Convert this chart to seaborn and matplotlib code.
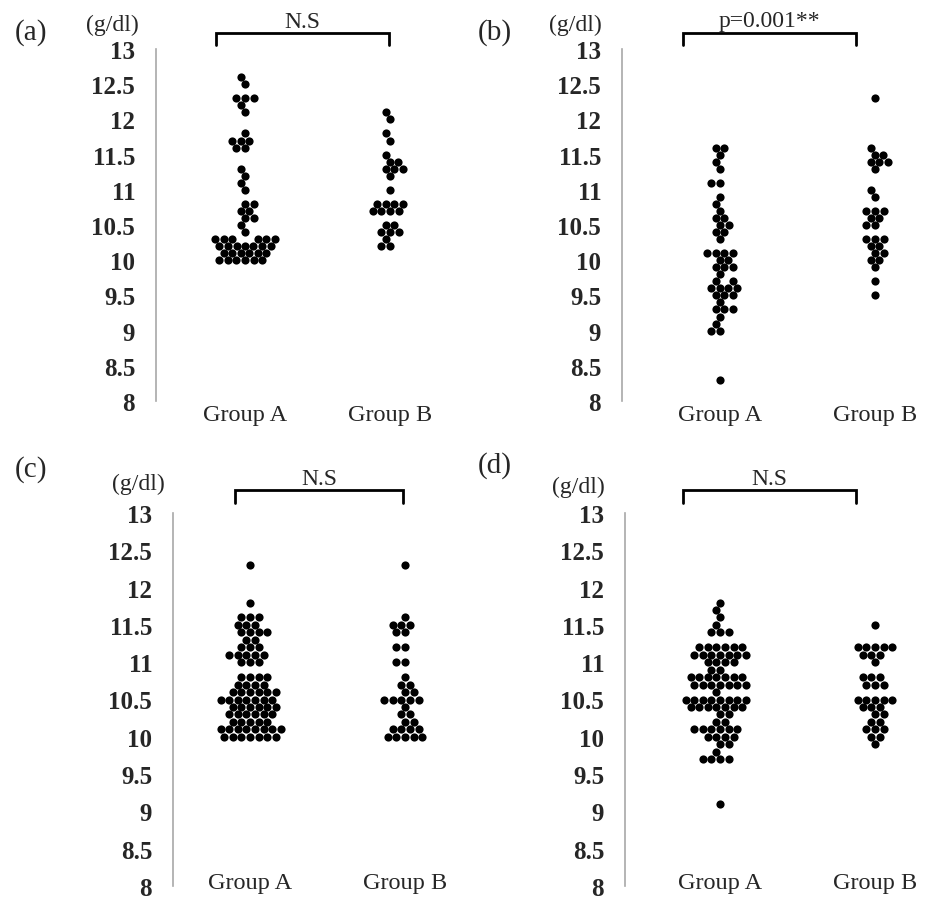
import matplotlib
matplotlib.use('Agg')
import matplotlib.pyplot as plt
import matplotlib.transforms as mtransforms
import seaborn as sns
import pandas as pd

# ---------------- data (g/dl) ----------------
groups = ["Group A", "Group B"]
yticks = [8, 8.5, 9, 9.5, 10, 10.5, 11, 11.5, 12, 12.5, 13]
ytick_labels = ["8", "8.5", "9", "9.5", "10", "10.5", "11", "11.5", "12", "12.5", "13"]

a_group_a = [12.6, 12.5, 12.3, 12.3, 12.3, 12.2, 12.1,
             11.8, 11.7, 11.7, 11.7, 11.6, 11.6,
             11.3, 11.2, 11.1, 11.0,
             10.8, 10.8, 10.7, 10.7, 10.6, 10.6, 10.5, 10.4,
             10.3, 10.3, 10.3, 10.3, 10.3, 10.3,
             10.2, 10.2, 10.2, 10.2, 10.2, 10.2, 10.2,
             10.1, 10.1, 10.1, 10.1, 10.1, 10.1,
             10.0, 10.0, 10.0, 10.0, 10.0, 10.0]
a_group_b = [12.1, 12.0, 11.8, 11.7, 11.5, 11.4, 11.4, 11.3, 11.3, 11.3, 11.2,
             11.0, 10.8, 10.8, 10.8, 10.8, 10.7, 10.7, 10.7, 10.7,
             10.5, 10.5, 10.4, 10.4, 10.4, 10.3, 10.2, 10.2]

b_group_a = [11.6, 11.6, 11.5, 11.4, 11.3, 11.1, 11.1, 10.9, 10.8, 10.7,
             10.6, 10.6, 10.5, 10.5, 10.4, 10.4, 10.3,
             10.1, 10.1, 10.1, 10.1, 10.0, 10.0, 9.9, 9.9, 9.9, 9.8,
             9.7, 9.7, 9.6, 9.6, 9.6, 9.6, 9.5, 9.5, 9.5, 9.4,
             9.3, 9.3, 9.3, 9.2, 9.1, 9.0, 9.0, 8.3]
b_group_b = [12.3, 11.6, 11.5, 11.5, 11.4, 11.4, 11.4, 11.3, 11.0, 10.9,
             10.7, 10.7, 10.7, 10.6, 10.6, 10.5, 10.5,
             10.3, 10.3, 10.3, 10.2, 10.2, 10.1, 10.1, 10.0, 10.0, 9.9, 9.7, 9.5]

c_group_a = [12.3, 11.8, 11.6, 11.6, 11.6, 11.5, 11.5, 11.5,
             11.4, 11.4, 11.4, 11.4, 11.3, 11.3, 11.2, 11.2, 11.2,
             11.1, 11.1, 11.1, 11.1, 11.1, 11.0, 11.0, 11.0,
             10.8, 10.8, 10.8, 10.8, 10.7, 10.7, 10.7, 10.7,
             10.6, 10.6, 10.6, 10.6, 10.6, 10.6,
             10.5, 10.5, 10.5, 10.5, 10.5, 10.5, 10.5,
             10.4, 10.4, 10.4, 10.4, 10.4, 10.4,
             10.3, 10.3, 10.3, 10.3, 10.3, 10.3,
             10.2, 10.2, 10.2, 10.2, 10.2,
             10.1, 10.1, 10.1, 10.1, 10.1, 10.1, 10.1, 10.1,
             10.0, 10.0, 10.0, 10.0, 10.0, 10.0, 10.0]
c_group_b = [12.3, 11.6, 11.5, 11.5, 11.5, 11.4, 11.4, 11.2, 11.2, 11.0, 11.0,
             10.8, 10.7, 10.7, 10.6, 10.6, 10.5, 10.5, 10.5, 10.5, 10.5,
             10.4, 10.3, 10.3, 10.2, 10.2, 10.1, 10.1, 10.1, 10.1,
             10.0, 10.0, 10.0, 10.0, 10.0]

d_group_a = [11.8, 11.7, 11.6, 11.5, 11.4, 11.4, 11.4,
             11.2, 11.2, 11.2, 11.2, 11.2, 11.2,
             11.1, 11.1, 11.1, 11.1, 11.1, 11.1, 11.1,
             11.0, 11.0, 11.0, 11.0, 10.9, 10.9,
             10.8, 10.8, 10.8, 10.8, 10.8, 10.8, 10.8,
             10.7, 10.7, 10.7, 10.7, 10.7, 10.7, 10.7, 10.6,
             10.5, 10.5, 10.5, 10.5, 10.5, 10.5, 10.5, 10.5,
             10.4, 10.4, 10.4, 10.4, 10.4, 10.4, 10.4,
             10.3, 10.3, 10.2, 10.2,
             10.1, 10.1, 10.1, 10.1, 10.1, 10.1,
             10.0, 10.0, 10.0, 10.0, 9.9, 9.9, 9.8,
             9.7, 9.7, 9.7, 9.7, 9.1]
d_group_b = [11.5, 11.2, 11.2, 11.2, 11.2, 11.2, 11.1, 11.1, 11.1, 11.0,
             10.8, 10.8, 10.8, 10.7, 10.7, 10.7,
             10.5, 10.5, 10.5, 10.5, 10.5, 10.4, 10.4, 10.4,
             10.3, 10.3, 10.2, 10.2, 10.1, 10.1, 10.1, 10.0, 10.0, 9.9]

panel_labels = ["(a)", "(b)", "(c)", "(d)"]
stat_texts = ["N.S", "p=0.001**", "N.S", "N.S"]
unit_label = "(g/dl)"

# ---------------- layout (pixels) ----------------
W, H = 926, 903
sns.set_theme(style="white")
plt.rcParams["font.family"] = ["Liberation Serif", "DejaVu Serif"]

fig = plt.figure(figsize=(W / 100, H / 100), dpi=100)

panels = [
    dict(a=a_group_a, b=a_group_b, rect=(156, 50, 460, 402), ax_px=245, bx_px=390,
         br=(216, 389), by=34, bt=46, ty=22, pl=(31, 33), ul=(112, 25), pad=2),
    dict(a=b_group_a, b=b_group_b, rect=(622, 50, 926, 402), ax_px=720, bx_px=875,
         br=(683, 856), by=34, bt=46, ty=22, pl=(495, 33), ul=(575, 25), pad=2),
    dict(a=c_group_a, b=c_group_b, rect=(173, 514, 460, 887), ax_px=250, bx_px=405,
         br=(235, 403), by=491, bt=504, ty=480, pl=(31, 470), ul=(138, 484), pad=-10),
    dict(a=d_group_a, b=d_group_b, rect=(625, 514, 926, 887), ax_px=720, bx_px=875,
         br=(683, 856), by=491, bt=504, ty=480, pl=(495, 466), ul=(578, 487), pad=-10),
]

for i, p in enumerate(panels):
    l, t, r, btm = p["rect"]
    ax = fig.add_axes([l / W, 1 - btm / H, (r - l) / W, (btm - t) / H])
    df = pd.DataFrame({
        "group": [groups[0]] * len(p["a"]) + [groups[1]] * len(p["b"]),
        "value": list(p["a"]) + list(p["b"]),
    })
    sns.swarmplot(data=df, x="group", y="value", order=groups, color="black",
                  size=5.9, linewidth=0, ax=ax)
    unit = p["bx_px"] - p["ax_px"]
    ax.set_xlim(-(p["ax_px"] - l) / unit, (r - p["ax_px"]) / unit)
    ax.set_ylim(8, 13)
    ax.set_xlabel("")
    ax.set_ylabel("")
    ax.set_yticks(yticks)
    ax.set_yticklabels(ytick_labels, fontsize=18, fontweight="bold")
    ax.tick_params(axis="y", length=0, pad=15)
    ax.set_xticks([0, 1])
    ax.set_xticklabels(groups, fontsize=17.5)
    ax.tick_params(axis="x", length=0, pad=p["pad"])
    for s in ["top", "right", "bottom"]:
        ax.spines[s].set_visible(False)
    ax.spines["left"].set_color("#a8a8a8")
    ax.spines["left"].set_linewidth(1.2)
    ax.set_facecolor("none")

    # significance bracket
    trans = mtransforms.blended_transform_factory(ax.transData, ax.transAxes)
    hpx = btm - t
    x0 = (p["br"][0] - p["ax_px"]) / unit
    x1 = (p["br"][1] - p["ax_px"]) / unit
    yb = 1 + (t - p["by"]) / hpx
    yt = 1 + (t - p["bt"]) / hpx
    ax.plot([x0, x0, x1, x1], [yt, yb, yb, yt], color="black", lw=2.0,
            transform=trans, clip_on=False, solid_joinstyle="miter")
    ax.text((x0 + x1) / 2, 1 + (t - p["ty"]) / hpx, stat_texts[i], transform=trans,
            ha="center", va="center", fontsize=17)

    fig.text(p["pl"][0] / W, 1 - p["pl"][1] / H, panel_labels[i], ha="center",
             va="center", fontsize=21)
    fig.text(p["ul"][0] / W, 1 - p["ul"][1] / H, unit_label, ha="center",
             va="center", fontsize=17)

fig.savefig("out.png", dpi=100, facecolor="white")
